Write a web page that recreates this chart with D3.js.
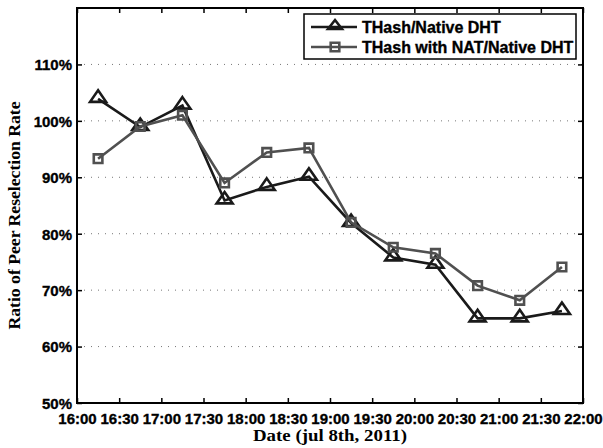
<!DOCTYPE html>
<html><head><meta charset="utf-8">
<script src="https://cdn.jsdelivr.net/npm/d3@7"></script>
<style>body{margin:0;background:#fff}</style>
</head><body>
<svg id="c" width="603" height="448"></svg>
<script>
const xTickLabels = ["16:00","16:30","17:00","17:30","18:00","18:30","19:00","19:30","20:00","20:30","21:00","21:30","22:00"];
const times = ["16:15","16:45","17:15","17:45","18:15","18:45","19:15","19:45","20:15","20:45","21:15","21:45"];
const thash = [103.9, 98.9, 102.7, 85.9, 88.3, 90.1, 81.9, 75.8, 74.5, 65.0, 65.0, 66.3];
const thashNat = [93.3, 99.0, 101.0, 89.0, 94.4, 95.2, 82.0, 77.6, 76.5, 70.8, 68.2, 74.1];
const yTicks = [50, 60, 70, 80, 90, 100, 110];
const seriesNames = ["THash/Native DHT", "THash with NAT/Native DHT"];

const toMin = s => { const [h,m] = s.split(":").map(Number); return h*60+m; };
const svg = d3.select("#c");
const L = 77, R = 583, T = 8, B = 403;
const x = d3.scaleLinear().domain([toMin("16:00"), toMin("22:00")]).range([L, R]);
const y = d3.scaleLinear().domain([50, 120]).range([B, T]);

// grid
svg.append("g").selectAll("line").data(yTicks.slice(1)).join("line")
  .attr("x1", L).attr("x2", R).attr("y1", d => y(d)).attr("y2", d => y(d))
  .attr("stroke", "#777").attr("stroke-width", 1).attr("stroke-dasharray", "1,6");

// axes
const tickFont = "bold 15px 'Liberation Sans', Arial, sans-serif";
const xAxis = d3.axisBottom(x).tickValues(xTickLabels.map(toMin)).tickFormat((d,i) => xTickLabels[i]).tickSizeInner(-5).tickSizeOuter(0).tickPadding(10);
const gx = svg.append("g").attr("transform", `translate(0,${B})`).call(xAxis);
const gxt = svg.append("g").attr("transform", `translate(0,${T})`).call(d3.axisTop(x).tickValues(xTickLabels.map(toMin)).tickFormat("").tickSizeInner(-5).tickSizeOuter(0));
const yAxis = d3.axisLeft(y).tickValues(yTicks).tickFormat(d => d + "%").tickSizeInner(-5).tickSizeOuter(0).tickPadding(5);
const gy = svg.append("g").attr("transform", `translate(${L},0)`).call(yAxis);
const gyr = svg.append("g").attr("transform", `translate(${R},0)`).call(d3.axisRight(y).tickValues(yTicks).tickFormat("").tickSizeInner(-5).tickSizeOuter(0));
[gx, gxt, gy, gyr].forEach(g => {
  g.select(".domain").remove();
  g.selectAll(".tick line").attr("stroke", "#000").attr("stroke-width", 1.5);
  g.selectAll("text").style("font", tickFont).attr("fill", "#000")
    .attr("stroke", "#000").attr("stroke-width", 0.35);
});
gy.selectAll("text").attr("dy", "0.36em");
svg.append("rect").attr("x", L).attr("y", T).attr("width", R-L).attr("height", B-T)
  .attr("fill", "none").attr("stroke", "#000").attr("stroke-width", 2);

// series
const colors = ["#1a1a1a", "#505050"];
const data = [thash, thashNat];
const line = d3.line().x((d,i) => x(toMin(times[i]))).y(d => y(d));
const triPath = (w, up, down) => `M0,${-up}L${w},${down}L${-w},${down}Z`;
const sqPath = s => `M${-s},${-s}H${s}V${s}H${-s}Z`;
const markers = [triPath(8, 8.5, 3), sqPath(4.3)];

data.forEach((vals, k) => {
  svg.append("path").datum(vals).attr("d", line).attr("fill", "none")
    .attr("stroke", colors[k]).attr("stroke-width", 2.6).attr("stroke-linejoin", "miter");
  svg.append("g").selectAll("path").data(vals).join("path")
    .attr("transform", (d,i) => `translate(${x(toMin(times[i]))},${y(d)})`)
    .attr("d", markers[k]).attr("fill", "none").attr("stroke", colors[k]).attr("stroke-width", 2.6);
});

// legend
const lg = svg.append("g");
lg.append("rect").attr("x", 304).attr("y", 14).attr("width", 272).attr("height", 45)
  .attr("fill", "#fff").attr("stroke", "#000").attr("stroke-width", 1.5);
seriesNames.forEach((n, k) => {
  const yy = 27 + k*20;
  lg.append("line").attr("x1", 311).attr("x2", 357).attr("y1", yy).attr("y2", yy)
    .attr("stroke", colors[k]).attr("stroke-width", 2.6);
  lg.append("path").attr("transform", `translate(335,${yy})`).attr("d", k === 0 ? triPath(7, 7, 2) : sqPath(4.3))
    .attr("fill", "none").attr("stroke", colors[k]).attr("stroke-width", 2.6);
  lg.append("text").attr("x", 362).attr("y", yy).attr("dy", "0.36em").text(n)
    .style("font", "bold 16px 'Liberation Sans', Arial, sans-serif")
    .attr("stroke", "#000").attr("stroke-width", 0.35);
});

// axis titles
const titleFont = "bold 17px 'Liberation Serif', 'Times New Roman', serif";
svg.append("text").attr("x", (L+R)/2).attr("y", 441).attr("text-anchor", "middle")
  .attr("textLength", 154).attr("lengthAdjust", "spacingAndGlyphs")
  .style("font", titleFont).text("Date (jul 8th, 2011)");
svg.append("text").attr("transform", `translate(20,${(T+B)/2 + 10}) rotate(-90)`).attr("text-anchor", "middle")
  .attr("textLength", 228).attr("lengthAdjust", "spacingAndGlyphs")
  .style("font", titleFont).text("Ratio of Peer Reselection Rate");
</script>
</body></html>
